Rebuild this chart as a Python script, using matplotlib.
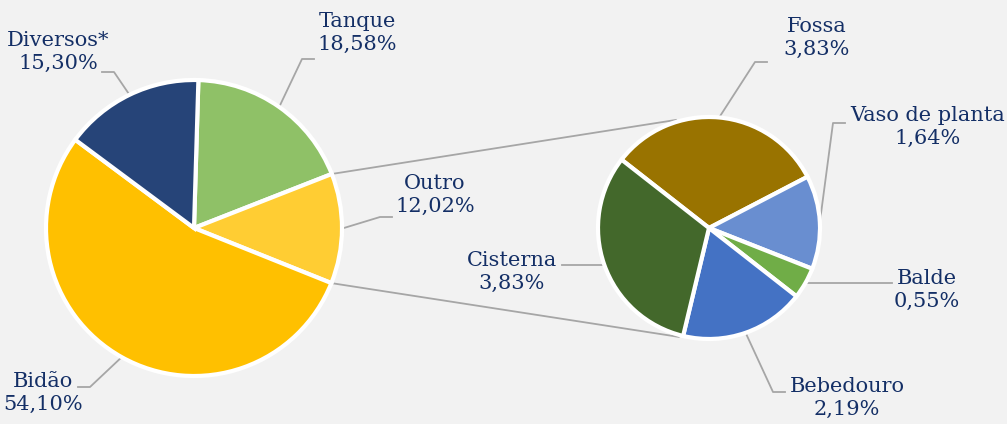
import numpy as np
import matplotlib
matplotlib.use('Agg')
import matplotlib.pyplot as plt

# Dados do gráfico (pizza principal)
main_labels = ['Tanque', 'Outro', 'Bidão', 'Diversos*']
main_values = [18.58, 12.02, 54.10, 15.30]
main_colors = ['#8fc167', '#ffcd33', '#ffc000', '#264478']

# Detalhamento de "Outro" (pizza secundária)
sub_labels = ['Fossa', 'Vaso de planta', 'Balde', 'Bebedouro', 'Cisterna']
sub_values = [3.83, 1.64, 0.55, 2.19, 3.83]
sub_colors = ['#997300', '#698ed0', '#70ad47', '#4472c4', '#43682b']

W, H = 1007, 424
bg = '#f2f2f2'
navy = '#142f66'
gray = '#a6a6a6'


def P(x, y):  # pixel (topo-esquerda) -> coordenadas de dados
    return x, H - y


fig = plt.figure(figsize=(W / 100, H / 100), dpi=100, facecolor=bg)
ax = fig.add_axes([0, 0, 1, 1])
ax.set_facecolor(bg)

c1, r1, start1 = P(194, 228), 148, 88.3
c2, r2, start2 = P(709, 228), 111, 142.0

wp = dict(edgecolor='white', linewidth=3)
w1, _ = ax.pie(main_values, colors=main_colors, startangle=start1, counterclock=False,
               center=c1, radius=r1, wedgeprops=wp)
w2, _ = ax.pie(sub_values, colors=sub_colors, startangle=start2, counterclock=False,
               center=c2, radius=r2, wedgeprops=wp)

ax.set_xlim(0, W)
ax.set_ylim(0, H)
ax.set_aspect('equal')
ax.axis('off')


def edge(wedge, center, r, ang=None):
    if ang is None:
        ang = (wedge.theta1 + wedge.theta2) / 2
    a = np.deg2rad(ang)
    return center[0] + r * np.cos(a), center[1] + r * np.sin(a)


# Linhas de ligação entre "Outro" e a pizza secundária
outro = w1[1]
for ang_main, ang_sub in [(outro.theta2, 107), (outro.theta1, -105.5)]:
    x0, y0 = edge(outro, c1, r1, ang_main)
    x1, y1 = edge(None, c2, r2 + 2, ang_sub)
    ax.plot([x0, x1], [y0, y1], color=gray, lw=1.3, zorder=0)

# posição do texto, cotovelo e fim da linha de chamada (em pixels)
main_layout = {
    'Tanque': ((357, 33), (302, 59), (314, 59)),
    'Outro': ((435, 195), (380, 217), (392, 217)),
    'Bidão': ((43, 393), (90, 387), (78, 387)),
    'Diversos*': ((58, 52), (114, 72), (102, 72)),
}
sub_layout = {
    'Fossa': ((817, 38), (755, 62), (767, 62)),
    'Vaso de planta': ((928, 127), (833, 123), (845, 123)),
    'Balde': ((927, 290), None, (892, 284)),
    'Bebedouro': ((847, 398), (773, 392), (785, 392)),
    'Cisterna': ((512, 272), None, (562, 265)),
}


def draw_labels(wedges, labels, values, center, r, layout):
    for w, lab, v in zip(wedges, labels, values):
        (tx, ty), elbow, end = layout[lab]
        x0, y0 = edge(w, center, r)
        xs, ys = [x0], [y0]
        if elbow is not None:
            ex, ey = P(*elbow)
            xs.append(ex)
            ys.append(ey)
        ex, ey = P(*end)
        if elbow is None:
            ey = y0
        xs.append(ex)
        ys.append(ey)
        ax.plot(xs, ys, color=gray, lw=1.3, zorder=0)
        txt = lab + '\n' + ('%.2f' % v).replace('.', ',') + '%'
        ax.text(*P(tx, ty), txt, ha='center', va='center', fontsize=15,
                family='DejaVu Serif', color=navy, linespacing=1.25)


draw_labels(w1, main_labels, main_values, c1, r1, main_layout)
draw_labels(w2, sub_labels, sub_values, c2, r2, sub_layout)

fig.savefig('out.png', dpi=100, facecolor=bg)
